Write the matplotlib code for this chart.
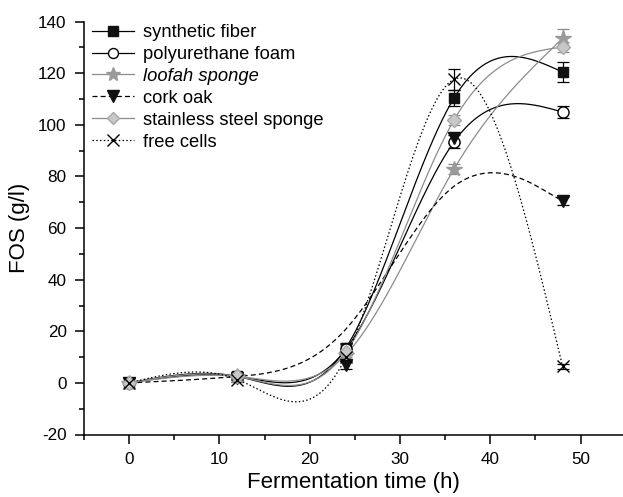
import numpy as np
import matplotlib
matplotlib.use("Agg")
import matplotlib.pyplot as plt
from matplotlib.ticker import MultipleLocator

plt.rcParams['font.family'] = ['Liberation Sans', 'DejaVu Sans']
plt.rcParams['axes.unicode_minus'] = False

time_h = [0, 12, 24, 36, 48]

labels = ["synthetic fiber", "polyurethane foam", "loofah sponge",
          "cork oak", "stainless steel sponge", "free cells"]

synthetic_fiber = [0.0, 2.5, 13.5, 110.5, 120.5]
polyurethane_foam = [0.0, 2.5, 13.0, 93.5, 105.0]
loofah_sponge = [0.0, 2.5, 11.0, 83.0, 133.5]
cork_oak = [0.0, 2.0, 7.0, 95.0, 70.5]
stainless_steel = [0.0, 2.5, 12.0, 102.0, 130.2]
free_cells = [0.0, 1.3, 10.0, 117.7, 6.5]

err_synthetic = [0.5, 0.8, 2.0, 3.0, 4.0]
err_polyurethane = [0.5, 0.8, 2.0, 2.5, 2.5]
err_loofah = [0.5, 0.8, 2.0, 2.0, 3.5]
err_cork = [0.5, 0.8, 1.5, 2.0, 1.5]
err_stainless = [0.5, 0.8, 2.0, 2.0, 2.0]
err_free = [0.5, 0.8, 1.5, 4.0, 1.0]


def natural_spline(x, y, xs):
    x = np.asarray(x, float); y = np.asarray(y, float)
    n = len(x)
    h = np.diff(x)
    A = np.zeros((n, n)); b = np.zeros(n)
    A[0, 0] = 1; A[-1, -1] = 1
    for i in range(1, n - 1):
        A[i, i - 1] = h[i - 1]
        A[i, i] = 2 * (h[i - 1] + h[i])
        A[i, i + 1] = h[i]
        b[i] = 6 * ((y[i + 1] - y[i]) / h[i] - (y[i] - y[i - 1]) / h[i - 1])
    M = np.linalg.solve(A, b)
    out = np.empty_like(xs)
    for k, t in enumerate(xs):
        i = min(max(np.searchsorted(x, t) - 1, 0), n - 2)
        a = x[i + 1] - t; c = t - x[i]
        out[k] = (M[i] * a ** 3 + M[i + 1] * c ** 3) / (6 * h[i]) \
            + (y[i] / h[i] - M[i] * h[i] / 6) * a \
            + (y[i + 1] / h[i] - M[i + 1] * h[i] / 6) * c
    return out


def bspline(x, y, num=60):
    P = np.column_stack([x, y]).astype(float)
    P = np.vstack([P[0], P[0], P, P[-1], P[-1]])
    pts = []
    for i in range(len(P) - 3):
        u = np.linspace(0, 1, num)
        b0 = (1 - u) ** 3 / 6
        b1 = (3 * u ** 3 - 6 * u ** 2 + 4) / 6
        b2 = (-3 * u ** 3 + 3 * u ** 2 + 3 * u + 1) / 6
        b3 = u ** 3 / 6
        seg = (b0[:, None] * P[i] + b1[:, None] * P[i + 1]
               + b2[:, None] * P[i + 2] + b3[:, None] * P[i + 3])
        pts.append(seg)
    pts = np.vstack(pts)
    return pts[:, 0], pts[:, 1]


fig = plt.figure(figsize=(6.23, 4.97), dpi=100)
ax = fig.add_axes([84 / 623, 62.5 / 497, 1 - 84 / 623, (434.5 - 21.7) / 497])

grey_line = '#8c8c8c'
styles = [
    dict(data=synthetic_fiber, err=err_synthetic, ls='-', lc='black', marker='s', mfc='#111111', mec='#111111', ms=7.5, ec='black', mode='spline'),
    dict(data=polyurethane_foam, err=err_polyurethane, ls='-', lc='black', marker='o', mfc='white', mec='black', ms=8, ec='black', mode='spline'),
    dict(data=loofah_sponge, err=err_loofah, ls='-', lc=grey_line, marker='*', mfc='#9a9a9a', mec='#9a9a9a', ms=11.5, ec='#8a8a8a', mode='spline'),
    dict(data=cork_oak, err=err_cork, ls=(0, (4, 2.5)), lc='black', marker='v', mfc='#111111', mec='#111111', ms=9, ec='black', mode='bspline'),
    dict(data=stainless_steel, err=err_stainless, ls='-', lc=grey_line, marker='D', mfc='#c8c8c8', mec='#a8a8a8', ms=7, ec='#8a8a8a', mode='spline'),
    dict(data=free_cells, err=err_free, ls=(0, (1.2, 1.8)), lc='black', marker='x', mfc='black', mec='black', ms=9, ec='black', mode='spline'),
]

xs = np.linspace(time_h[0], time_h[-1], 400)
handles = []
for lab, st in zip(labels, styles):
    if st['mode'] == 'spline':
        cx, cy = xs, natural_spline(time_h, st['data'], xs)
    else:
        cx, cy = bspline(time_h, st['data'])
    ax.plot(cx, cy, ls=st['ls'], color=st['lc'], lw=0.9, zorder=2)
    ax.errorbar(time_h, st['data'], yerr=st['err'], fmt='none', ecolor=st['ec'],
                elinewidth=0.9, capsize=4, capthick=0.9, zorder=3)
    ax.plot(time_h, st['data'], ls='none', marker=st['marker'], mfc=st['mfc'],
            mec=st['mec'], ms=st['ms'], mew=1.0, zorder=4)
    h, = ax.plot([], [], ls=st['ls'], color=st['lc'], lw=0.9, marker=st['marker'],
                 mfc=st['mfc'], mec=st['mec'], ms=st['ms'] * 0.9, mew=1.0)
    handles.append(h)

ax.set_xlim(-5, 54.7)
ax.set_ylim(-20, 140)
ax.xaxis.set_major_locator(MultipleLocator(10))
ax.xaxis.set_minor_locator(MultipleLocator(5))
ax.yaxis.set_major_locator(MultipleLocator(20))
ax.yaxis.set_minor_locator(MultipleLocator(10))
for s in ['top', 'right']:
    ax.spines[s].set_visible(False)
for s in ['left', 'bottom']:
    ax.spines[s].set_linewidth(1.1)
ax.tick_params(which='major', direction='out', length=6.5, width=1.1, labelsize=12.3)
ax.tick_params(axis='x', which='major', pad=6)
ax.tick_params(axis='y', which='major', pad=6)
ax.tick_params(which='minor', direction='out', length=3.5, width=1.1)

ax.set_xlabel("Fermentation time (h)", fontsize=16, labelpad=4)
ax.set_ylabel("FOS (g/l)", fontsize=16, labelpad=6)

leg = fig.legend(handles, labels, loc='upper left', bbox_to_anchor=(92 / 623, 1 - 24 / 497),
                 bbox_transform=fig.transFigure, frameon=False, fontsize=13.2,
                 handlelength=2.3, handletextpad=0.5, labelspacing=0.27,
                 borderpad=0, borderaxespad=0, numpoints=1)
leg.get_texts()[2].set_style('italic')

fig.savefig("out.png", dpi=100)
